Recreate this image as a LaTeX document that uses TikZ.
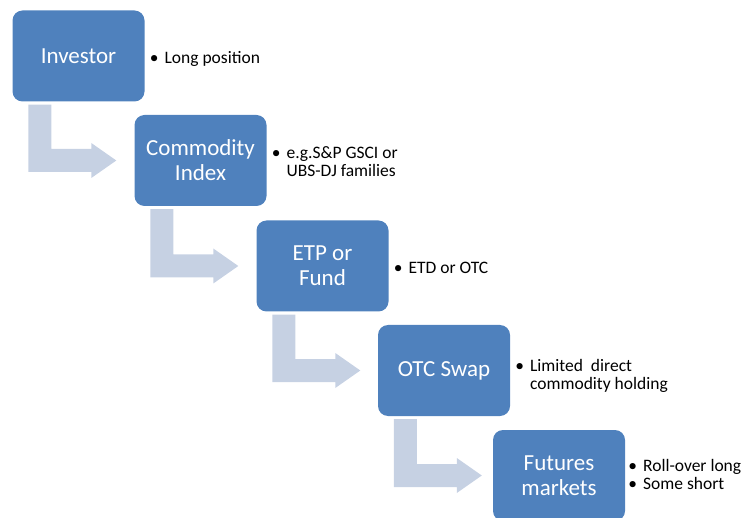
\documentclass[tikz,border=0pt]{standalone}
\usepackage{fontspec}
\setmainfont{Carlito}
\usepackage{tikz}
\usetikzlibrary{calc}

\definecolor{boxblue}{HTML}{4F81BD}
\definecolor{flowgrey}{HTML}{C6D1E3}

\tikzset{
  box/.style={fill=boxblue, rounded corners=10pt, minimum width=132pt,
    minimum height=91pt, text=white, align=center,
    font=\fontsize{23}{25}\selectfont},
  note/.style={anchor=west, inner sep=0pt, align=left,
    font=\fontsize{17.5}{18}\selectfont},
  flow/.style={fill=flowgrey}
}

\newcommand{\pts}[1]{\begin{tabular}{@{}l@{\hspace{6pt}}l@{}}#1\end{tabular}}

\begin{document}
\begin{tikzpicture}[x=1pt,y=-1pt]
  \useasboundingbox (0,0) rectangle (741,518);

  \node[box] (inv)  at (78.5,56) {Investor};
  \node[box] (idx)  at (200.5,160.5) {Commodity\\Index};
  \node[box] (etp)  at (322.5,266) {ETP or\\Fund};
  \node[box] (swap) at (444,370.5) {OTC Swap};
  \node[box] (fut)  at (559,475.5) {Futures\\markets};

  \node[note] (invnote)  at ($(inv.east)+(5,4)$) {\pts{\textbullet & Long position}};
  \node[note] (idxnote)  at ($(idx.east)+(5,3)$)
  	{\pts{\textbullet & e.g.S\&P GSCI or\\ & UBS-DJ families}};
  \node[note] (etpnote)  at ($(etp.east)+(5,4)$) {\pts{\textbullet & ETD or OTC}};
  \node[note] (swapnote) at ($(swap.east)+(5,6)$)
  	{\pts{\textbullet & Limited\ \ direct\\ & commodity holding}};
  \node[note] (futnote)  at ($(fut.east)+(3,1)$)
  	{\pts{\textbullet & Roll-over long\\ \textbullet & Some short}};

  % bent arrows, from the foot of one box to the side of the next
  \foreach \a/\b in {inv/idx, idx/etp, etp/swap, swap/fut} {
    \coordinate (tip) at ($(\a.south west |- \b.west)+(104,0)$);
    \fill[flow] ($(\a.south west)+(16,3)$) -- ($(\a.south west)+(39,3)$)
      -- ($(tip)+(-65,-11.5)$) -- ($(tip)+(-25,-11.5)$)
      -- ($(tip)+(-25,-17.5)$) -- (tip) -- ($(tip)+(-25,17.5)$)
      -- ($(tip)+(-25,11.5)$) -- ($(tip)+(-88,11.5)$) -- cycle;
  }

\end{tikzpicture}
\end{document}
